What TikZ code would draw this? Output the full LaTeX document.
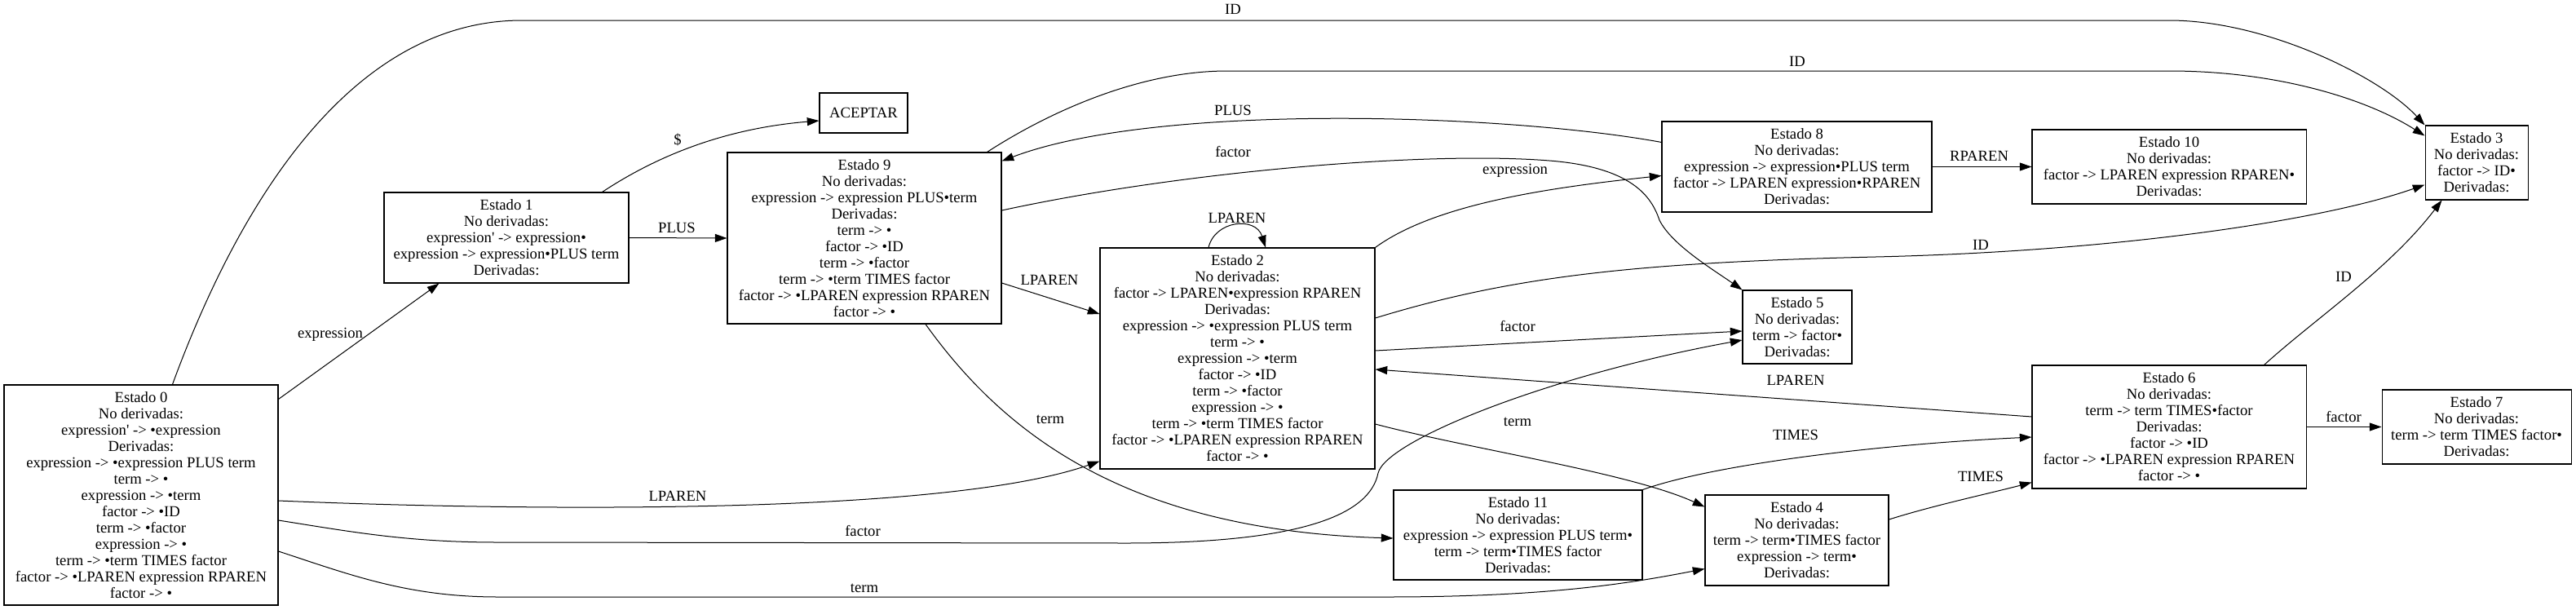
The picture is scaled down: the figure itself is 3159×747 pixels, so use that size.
\documentclass[tikz,border=0pt]{standalone}
\usepackage{fontspec}
\setmainfont{Liberation Serif}
\usetikzlibrary{arrows.meta,calc}
\begin{document}
\begin{tikzpicture}[x=0.75pt,y=-0.75pt,
  font=\fontsize{14pt}{15pt}\selectfont,
  st/.style={draw, line width=0.8pt, rectangle, align=center, inner sep=0pt},
  lbl/.style={inner sep=0pt, text height=0.66em, text depth=0pt},
  conn/.style={line width=0.75pt, -{Triangle[length=11pt,width=7.5pt]}}]
\useasboundingbox (0,0) rectangle (3159,747);

% states
\node[st, minimum width=252pt, minimum height=202.5pt] (s0) at (173,607)
 {Estado 0\\No derivadas:\\expression\textquotesingle{} -> •expression\\Derivadas:\\expression -> •expression PLUS term\\term -> •\\expression -> •term\\factor -> •ID\\term -> •factor\\expression -> •\\term -> •term TIMES factor\\factor -> •LPAREN expression RPAREN\\factor -> •};
\node[st, minimum width=225pt, minimum height=83.25pt] (s1) at (621,291.5)
 {Estado 1\\No derivadas:\\expression\textquotesingle{} -> expression•\\expression -> expression•PLUS term\\Derivadas:};
\node[st, minimum width=81pt, minimum height=36.75pt] (acc) at (1059,138.5) {ACEPTAR};
\node[st, minimum width=252pt, minimum height=157.5pt] (s9) at (1060,292)
 {Estado 9\\No derivadas:\\expression -> expression PLUS•term\\Derivadas:\\term -> •\\factor -> •ID\\term -> •factor\\term -> •term TIMES factor\\factor -> •LPAREN expression RPAREN\\factor -> •};
\node[st, minimum width=252.75pt, minimum height=203.25pt] (s2) at (1517.5,439.5)
 {Estado 2\\No derivadas:\\factor -> LPAREN•expression RPAREN\\Derivadas:\\expression -> •expression PLUS term\\term -> •\\expression -> •term\\factor -> •ID\\term -> •factor\\expression -> •\\term -> •term TIMES factor\\factor -> •LPAREN expression RPAREN\\factor -> •};
\node[st, minimum width=248.25pt, minimum height=83.25pt] (s8) at (2203.5,204.5)
 {Estado 8\\No derivadas:\\expression -> expression•PLUS term\\factor -> LPAREN expression•RPAREN\\Derivadas:};
\node[st, minimum width=100.5pt, minimum height=67.5pt] (s5) at (2204,401)
 {Estado 5\\No derivadas:\\term -> factor•\\Derivadas:};
\node[st, minimum width=228.75pt, minimum height=82.5pt] (s11) at (1861.5,656)
 {Estado 11\\No derivadas:\\expression -> expression PLUS term•\\term -> term•TIMES factor\\Derivadas:};
\node[st, minimum width=168.75pt, minimum height=83.25pt] (s4) at (2203.5,662.5)
 {Estado 4\\No derivadas:\\term -> term•TIMES factor\\expression -> term•\\Derivadas:};
\node[st, minimum width=252pt, minimum height=68.25pt] (s10) at (2660,204.5)
 {Estado 10\\No derivadas:\\factor -> LPAREN expression RPAREN•\\Derivadas:};
\node[st, minimum width=94.5pt, minimum height=68.25pt] (s3) at (3037,199.5)
 {Estado 3\\No derivadas:\\factor -> ID•\\Derivadas:};
\node[st, minimum width=252pt, minimum height=113.25pt] (s6) at (2660,523.5)
 {Estado 6\\No derivadas:\\term -> term TIMES•factor\\Derivadas:\\factor -> •ID\\factor -> •LPAREN expression RPAREN\\factor -> •};
\node[st, minimum width=174pt, minimum height=68.25pt] (s7) at (3037,523.5)
 {Estado 7\\No derivadas:\\term -> term TIMES factor•\\Derivadas:};

% connectors
\draw[conn] ($(s0.north west)+(207,0)$) .. controls (300,230) and (440,25) .. (640,25) -- (2660,25) .. controls (2780,25) and (2920,95) .. (s3.north west);
\draw[conn] ($(s0.north east)+(0,18)$) -- ($(s1.south west)+(68,0)$);
\draw[conn] ($(s1.north east)+(-33,0)$) .. controls (830,175) and (920,155) .. ($(acc.west)+(0,9.5)$);
\draw[conn] (s1.east) -- (s9.west);
\draw[conn] ($(s9.north east)+(-18,0)$) .. controls (1290,135) and (1400,87) .. (1505,87) -- (2660,87) .. controls (2790,87) and (2900,120) .. ($(s3.north west)+(0,13)$);
\draw[conn] ($(s8.north west)+(0,26)$) .. controls (1850,140) and (1420,125) .. ($(s9.north east)+(0,11)$);
\draw[conn] ($(s9.east)+(0,-34)$) .. controls (1450,210) and (1750,185) .. (1900,197) .. controls (2000,205) and (2025,240) .. (2035,270) .. controls (2050,300) and (2100,330) .. (s5.north west);
\draw[conn] ($(s9.east)+(0,55)$) -- ($(s2.west)+(0,-54.5)$);
\draw[conn] ($(s9.south)+(75,0)$) .. controls (1230,530) and (1380,650) .. ($(s11.west)+(0,4)$);
\draw[conn] ($(s2.north)+(-35.5,0)$) .. controls (1490,270) and (1540,265) .. ($(s2.north)+(34.5,0)$);
\draw[conn] (s2.north east) .. controls (1760,250) and (1900,230) .. ($(s8.north west)+(0,67)$);
\draw[conn] ($(s2.east)+(0,-49.5)$) .. controls (1850,340) and (2000,322) .. (2300,315) .. controls (2600,308) and (2850,270) .. ($(s3.south west)+(0,-19)$);
\draw[conn] ($(s2.east)+(0,-9.5)$) -- ($(s5.west)+(0,5)$);
\draw[conn] ($(s2.east)+(0,80.5)$) .. controls (1800,550) and (2000,580) .. ($(s4.north west)+(0,15)$);
\draw[conn] ($(s0.east)+(0,7)$) .. controls (600,625) and (1150,635) .. ($(s2.south west)+(0,-10)$);
\draw[conn] ($(s0.east)+(0,31)$) .. controls (430,652) and (500,665) .. (611,665) -- (1380,666) .. controls (1600,666) and (1680,630) .. (1690,580) .. controls (1700,540) and (1900,460) .. ($(s5.west)+(0,16)$);
\draw[conn] ($(s0.east)+(0,69)$) .. controls (430,705) and (500,732) .. (611,732) -- (1700,732) .. controls (1900,732) and (2000,715) .. ($(s4.south west)+(0,-21)$);
\draw[conn] ($(s6.west)+(0,-12.5)$) -- ($(s2.east)+(0,13.5)$);
\draw[conn] (s11.north east) .. controls (2100,570) and (2300,545) .. ($(s6.west)+(0,12.5)$);
\draw[conn] ($(s4.east)+(0,-25.5)$) .. controls (2370,620) and (2440,605) .. ($(s6.south west)+(0,-8)$);
\draw[conn] ($(s6.north east)+(-52,0)$) .. controls (2840,390) and (2930,330) .. ($(s3.south west)+(21,0)$);
\draw[conn] (s6.east) -- (s7.west);
\draw[conn] (s8.east) -- (s10.west);

% labels
\node[lbl] (l1) at (1512,13) {ID};
\node[lbl] (l2) at (405,410) {expression};
\node[lbl] (l3) at (831,173) {\$};
\node[lbl] (l4) at (830,281) {PLUS};
\node[lbl] (l5) at (2204,77) {ID};
\node[lbl] (l6) at (1512,137) {PLUS};
\node[lbl] (l7) at (1512,188) {factor};
\node[lbl] (l8) at (1287,345) {LPAREN};
\node[lbl] (l9) at (1288,515) {term};
\node[lbl] (l10) at (1517,269) {LPAREN};
\node[lbl] (l11) at (1858,209) {expression};
\node[lbl] (l12) at (2429,302) {ID};
\node[lbl] (l13) at (1861,402) {factor};
\node[lbl] (l14) at (1861,518) {term};
\node[lbl] (l15) at (831,610) {LPAREN};
\node[lbl] (l16) at (1058,653) {factor};
\node[lbl] (l17) at (1060,722) {term};
\node[lbl] (l18) at (2202,468) {LPAREN};
\node[lbl] (l19) at (2202,535) {TIMES};
\node[lbl] (l20) at (2429,586) {TIMES};
\node[lbl] (l21) at (2874,341) {ID};
\node[lbl] (l22) at (2874,513) {factor};
\node[lbl] (l23) at (2427,193) {RPAREN};
\end{tikzpicture}
\end{document}
